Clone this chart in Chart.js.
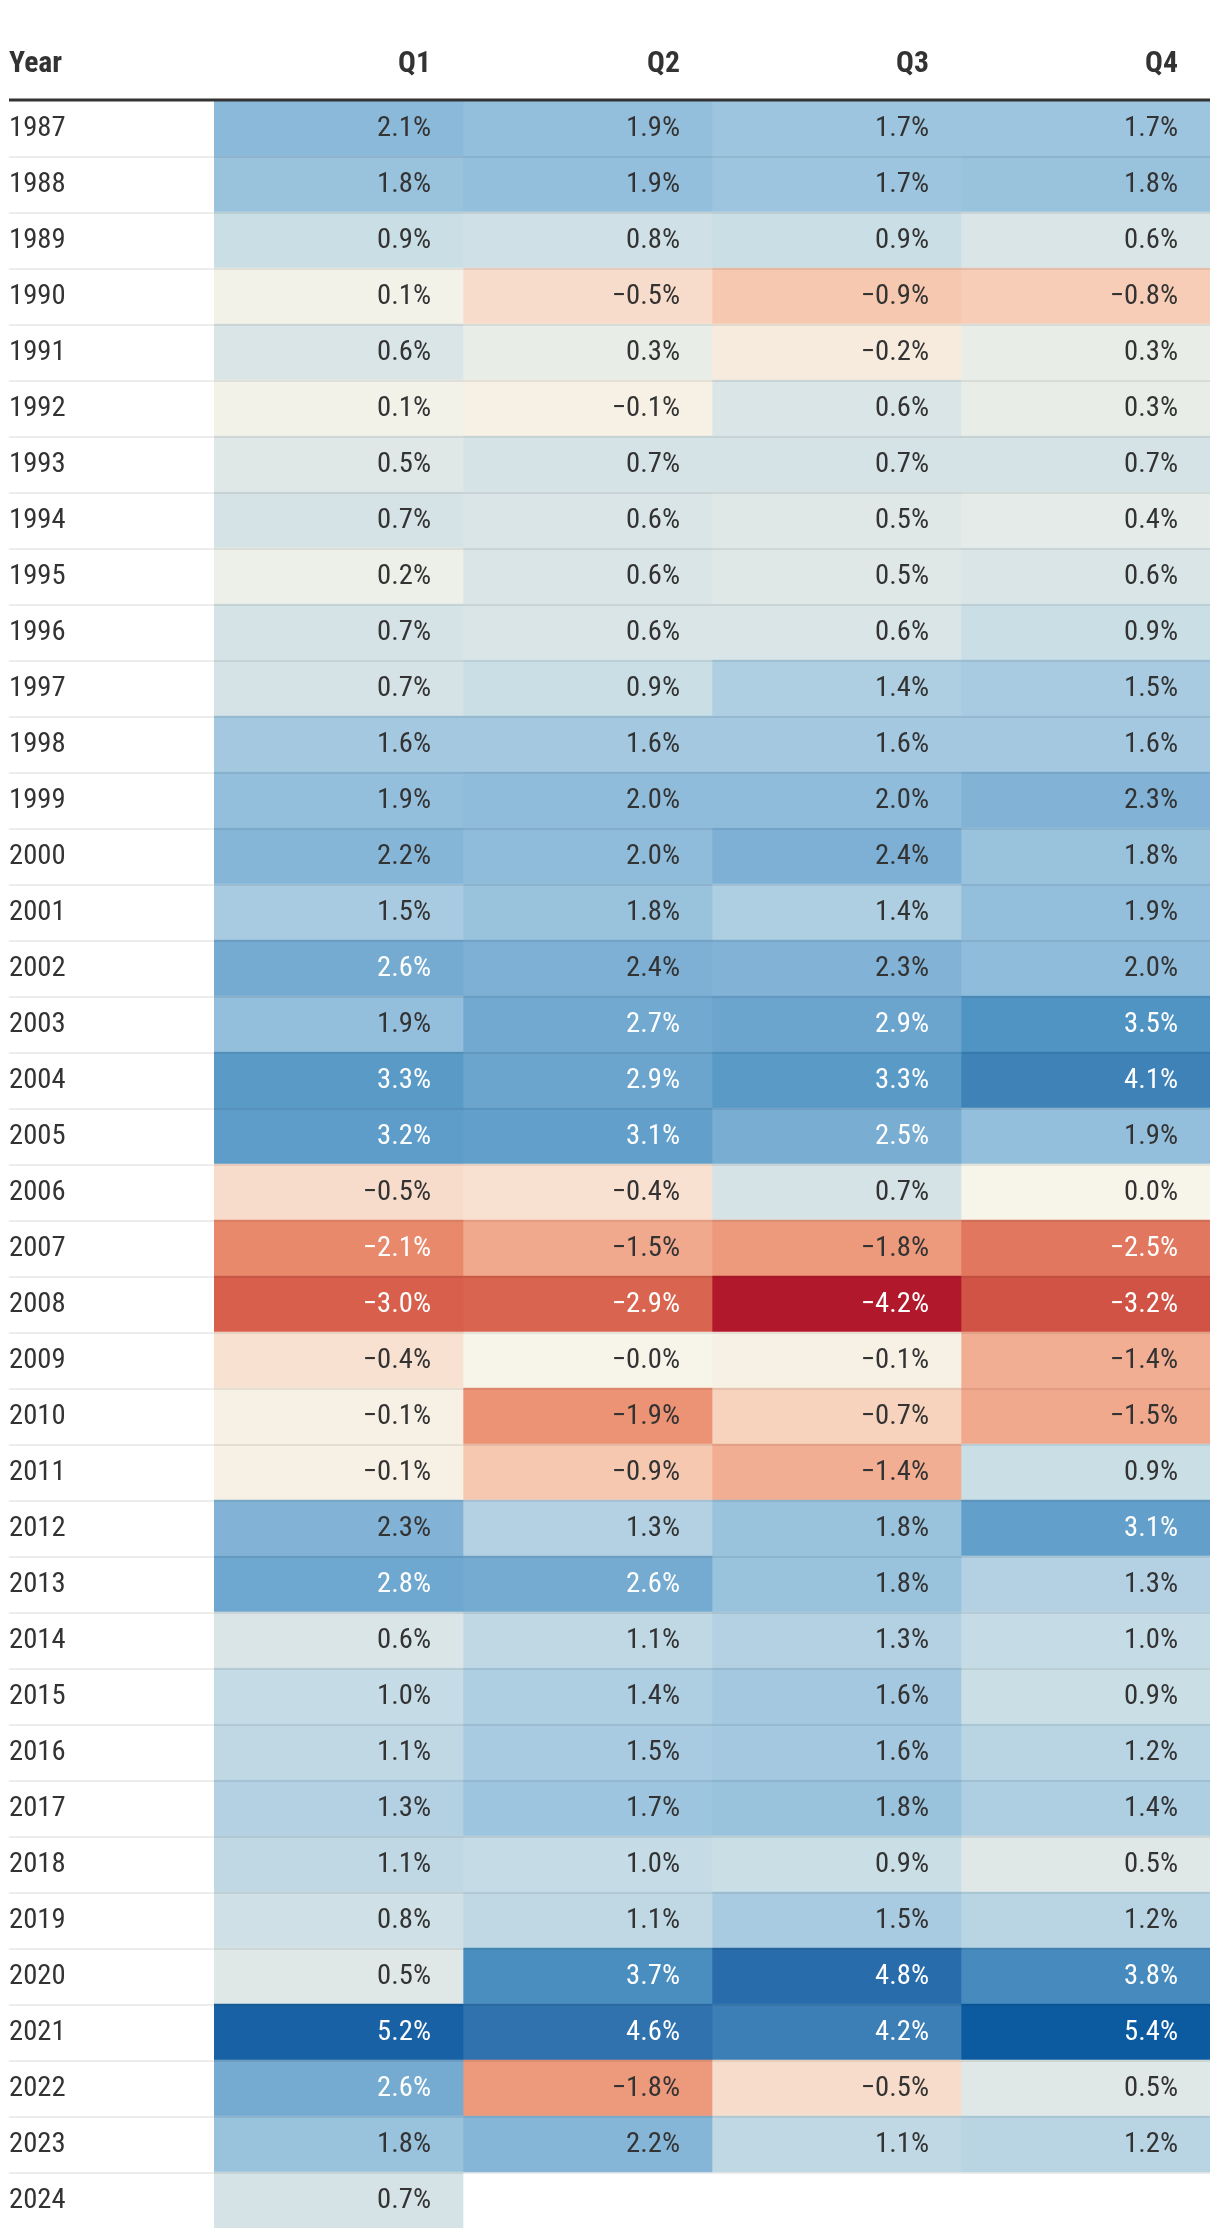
<!DOCTYPE html>
<html>
<head>
<meta charset="utf-8">
<script src="https://cdn.jsdelivr.net/npm/chart.js@4/dist/chart.umd.min.js"></script>
<style>
  html, body { margin: 0; padding: 0; background: #ffffff; }
  #wrap { width: 1220px; height: 2238px; position: relative; }
  canvas { display: block; }
</style>
</head>
<body>
<div id="wrap"><canvas id="c" width="1220" height="2238"></canvas></div>
<script>
// ---------------- DATA ----------------
const yearHeader = 'Year';
const quarterLabels = ['Q1', 'Q2', 'Q3', 'Q4'];
const years = ['1987','1988','1989','1990','1991','1992','1993','1994','1995','1996',
               '1997','1998','1999','2000','2001','2002','2003','2004','2005','2006',
               '2007','2008','2009','2010','2011','2012','2013','2014','2015','2016',
               '2017','2018','2019','2020','2021','2022','2023','2024'];
const q1 = [2.1, 1.8, 0.9, 0.1, 0.6, 0.1, 0.5, 0.7, 0.2, 0.7,
            0.7, 1.6, 1.9, 2.2, 1.5, 2.6, 1.9, 3.3, 3.2, -0.5,
            -2.1, -3.0, -0.4, -0.1, -0.1, 2.3, 2.8, 0.6, 1.0, 1.1,
            1.3, 1.1, 0.8, 0.5, 5.2, 2.6, 1.8, 0.7];
const q2 = [1.9, 1.9, 0.8, -0.5, 0.3, -0.1, 0.7, 0.6, 0.6, 0.6,
            0.9, 1.6, 2.0, 2.0, 1.8, 2.4, 2.7, 2.9, 3.1, -0.4,
            -1.5, -2.9, -0.0, -1.9, -0.9, 1.3, 2.6, 1.1, 1.4, 1.5,
            1.7, 1.0, 1.1, 3.7, 4.6, -1.8, 2.2, null];
const q3 = [1.7, 1.7, 0.9, -0.9, -0.2, 0.6, 0.7, 0.5, 0.5, 0.6,
            1.4, 1.6, 2.0, 2.4, 1.4, 2.3, 2.9, 3.3, 2.5, 0.7,
            -1.8, -4.2, -0.1, -0.7, -1.4, 1.8, 1.8, 1.3, 1.6, 1.6,
            1.8, 0.9, 1.5, 4.8, 4.2, -0.5, 1.1, null];
const q4 = [1.7, 1.8, 0.6, -0.8, 0.3, 0.3, 0.7, 0.4, 0.6, 0.9,
            1.5, 1.6, 2.3, 1.8, 1.9, 2.0, 3.5, 4.1, 1.9, 0.0,
            -2.5, -3.2, -1.4, -1.5, 0.9, 3.1, 1.3, 1.0, 0.9, 1.2,
            1.4, 0.5, 1.2, 3.8, 5.4, 0.5, 1.2, null];
const quarterSeries = [q1, q2, q3, q4];

// ---------------- STYLE ----------------
const colorStops = [
  [-4.2, '#b2182b'], [-3.0, '#d75f4b'], [-2.0, '#eb8e70'], [-1.0, '#f6c3a9'],
  [-0.5, '#f8dccb'], [0.0, '#f7f5ea'], [0.5, '#dfe8e7'], [1.0, '#c5dbe5'],
  [1.5, '#a8cbe1'], [2.0, '#8fbcdb'], [2.5, '#79add2'], [3.0, '#67a3cd'],
  [3.5, '#5094c3'], [4.0, '#4185ba'], [4.5, '#3375b0'], [5.0, '#2366a8'],
  [5.4, '#0c5ba0']
];
const TEXT_DARK = '#333333';
const TEXT_LIGHT = '#ffffff';
const FONT_SIZE = 28;
const HEADER_SIZE = 29;
const CELL_PAD_RIGHT = 32;
const LEFT_EDGE = 9;

function hexToRgb(h) {
  const n = parseInt(h.slice(1), 16);
  return [(n >> 16) & 255, (n >> 8) & 255, n & 255];
}
function colorFor(v) {
  if (v <= colorStops[0][0]) return colorStops[0][1];
  for (let i = 1; i < colorStops.length; i++) {
    const [v1, c1] = colorStops[i];
    if (v <= v1) {
      const [v0, c0] = colorStops[i - 1];
      const t = (v - v0) / (v1 - v0);
      const a = hexToRgb(c0), b = hexToRgb(c1);
      const m = a.map((x, k) => Math.round(x + (b[k] - x) * t));
      return `rgb(${m[0]},${m[1]},${m[2]})`;
    }
  }
  return colorStops[colorStops.length - 1][1];
}
function textColorFor(v) {
  return (v >= 2.5 || v <= -2.0) ? TEXT_LIGHT : TEXT_DARK;
}
function fmt(v) {
  const neg = v < 0 || Object.is(v, -0);
  return (neg ? '\u2212' : '') + Math.abs(v).toFixed(1) + '%';
}

// font selection: prefer a condensed face, otherwise condense Roboto horizontally
function pickFamily() {
  const c = document.createElement('canvas').getContext('2d');
  c.font = '100px monospace';
  const base = c.measureText('1987 Year Q').width;
  c.font = "100px 'Roboto Condensed', monospace";
  const w = c.measureText('1987 Year Q').width;
  return Math.abs(w - base) > 1 ? "'Roboto Condensed', Roboto, sans-serif" : "Roboto, 'Noto Sans', sans-serif";
}
const FAMILY = pickFamily();
const SX = (function () {
  const c = document.createElement('canvas').getContext('2d');
  c.font = `400 ${FONT_SIZE}px ${FAMILY}`;
  const w = c.measureText('2022').width + c.measureText('1.9%').width;
  return Math.max(0.75, Math.min(1.1, (56 + 54.5) / w));
})();

function drawText(ctx, str, x, yb, align, weight, size, color) {
  ctx.save();
  ctx.font = `${weight} ${size}px ${FAMILY}`;
  ctx.fillStyle = color;
  ctx.textAlign = align;
  ctx.textBaseline = 'alphabetic';
  ctx.translate(x, yb);
  ctx.scale(SX, 1);
  ctx.fillText(str, 0, 0);
  ctx.restore();
}

const tablePlugin = {
  id: 'tableDecor',
  afterDatasetsDraw(chart) {
    const { ctx, chartArea, scales } = chart;
    const xs = scales.x, ys = scales.y;
    const width = chartArea.right - LEFT_EDGE;
    ctx.save();
    // row separators
    ctx.fillStyle = 'rgba(0,0,0,0.07)';
    for (let i = 1; i < years.length; i++) {
      const top = Math.round((ys.getPixelForValue(i - 1) + ys.getPixelForValue(i)) / 2);
      ctx.fillRect(LEFT_EDGE, top, width, 2);
    }
    // header rule
    ctx.fillStyle = '#333333';
    ctx.fillRect(LEFT_EDGE, chartArea.top - 1.5, width, 3);
    ctx.restore();

    // header labels
    const headerBase = chartArea.top - 28.5;
    drawText(ctx, yearHeader, LEFT_EDGE, headerBase, 'left', 700, HEADER_SIZE, TEXT_DARK);
    quarterLabels.forEach((q, k) => {
      drawText(ctx, q, xs.getPixelForValue(k + 1) - CELL_PAD_RIGHT, headerBase, 'right', 700, HEADER_SIZE, TEXT_DARK);
    });

    // year labels and cell values
    years.forEach((yr, i) => {
      const base = ys.getPixelForValue(i) + 8;
      drawText(ctx, yr, LEFT_EDGE, base, 'left', 400, FONT_SIZE, TEXT_DARK);
      quarterSeries.forEach((series, k) => {
        const v = series[i];
        if (v === null || v === undefined) return;
        drawText(ctx, fmt(v), xs.getPixelForValue(k + 1) - CELL_PAD_RIGHT, base, 'right', 400, FONT_SIZE, textColorFor(v));
      });
    });
  }
};

new Chart(document.getElementById('c'), {
  type: 'bar',
  data: {
    labels: years,
    datasets: quarterLabels.map((name, k) => ({
      label: name,
      data: quarterSeries[k].map(v => (v === null ? null : [k, k + 1])),
      backgroundColor: quarterSeries[k].map(v => (v === null ? 'rgba(0,0,0,0)' : colorFor(v))),
      borderWidth: 0,
      borderSkipped: false,
      grouped: false,
      barPercentage: 1,
      categoryPercentage: 1
    }))
  },
  options: {
    indexAxis: 'y',
    responsive: false,
    animation: false,
    devicePixelRatio: 1,
    layout: { padding: { left: 214, right: 10, top: 100, bottom: 10 } },
    scales: {
      x: { type: 'linear', min: 0, max: 4, display: false },
      y: { type: 'category', display: false, offset: true }
    },
    plugins: { legend: { display: false }, tooltip: { enabled: false } }
  },
  plugins: [tablePlugin]
});
</script>
</body>
</html>
